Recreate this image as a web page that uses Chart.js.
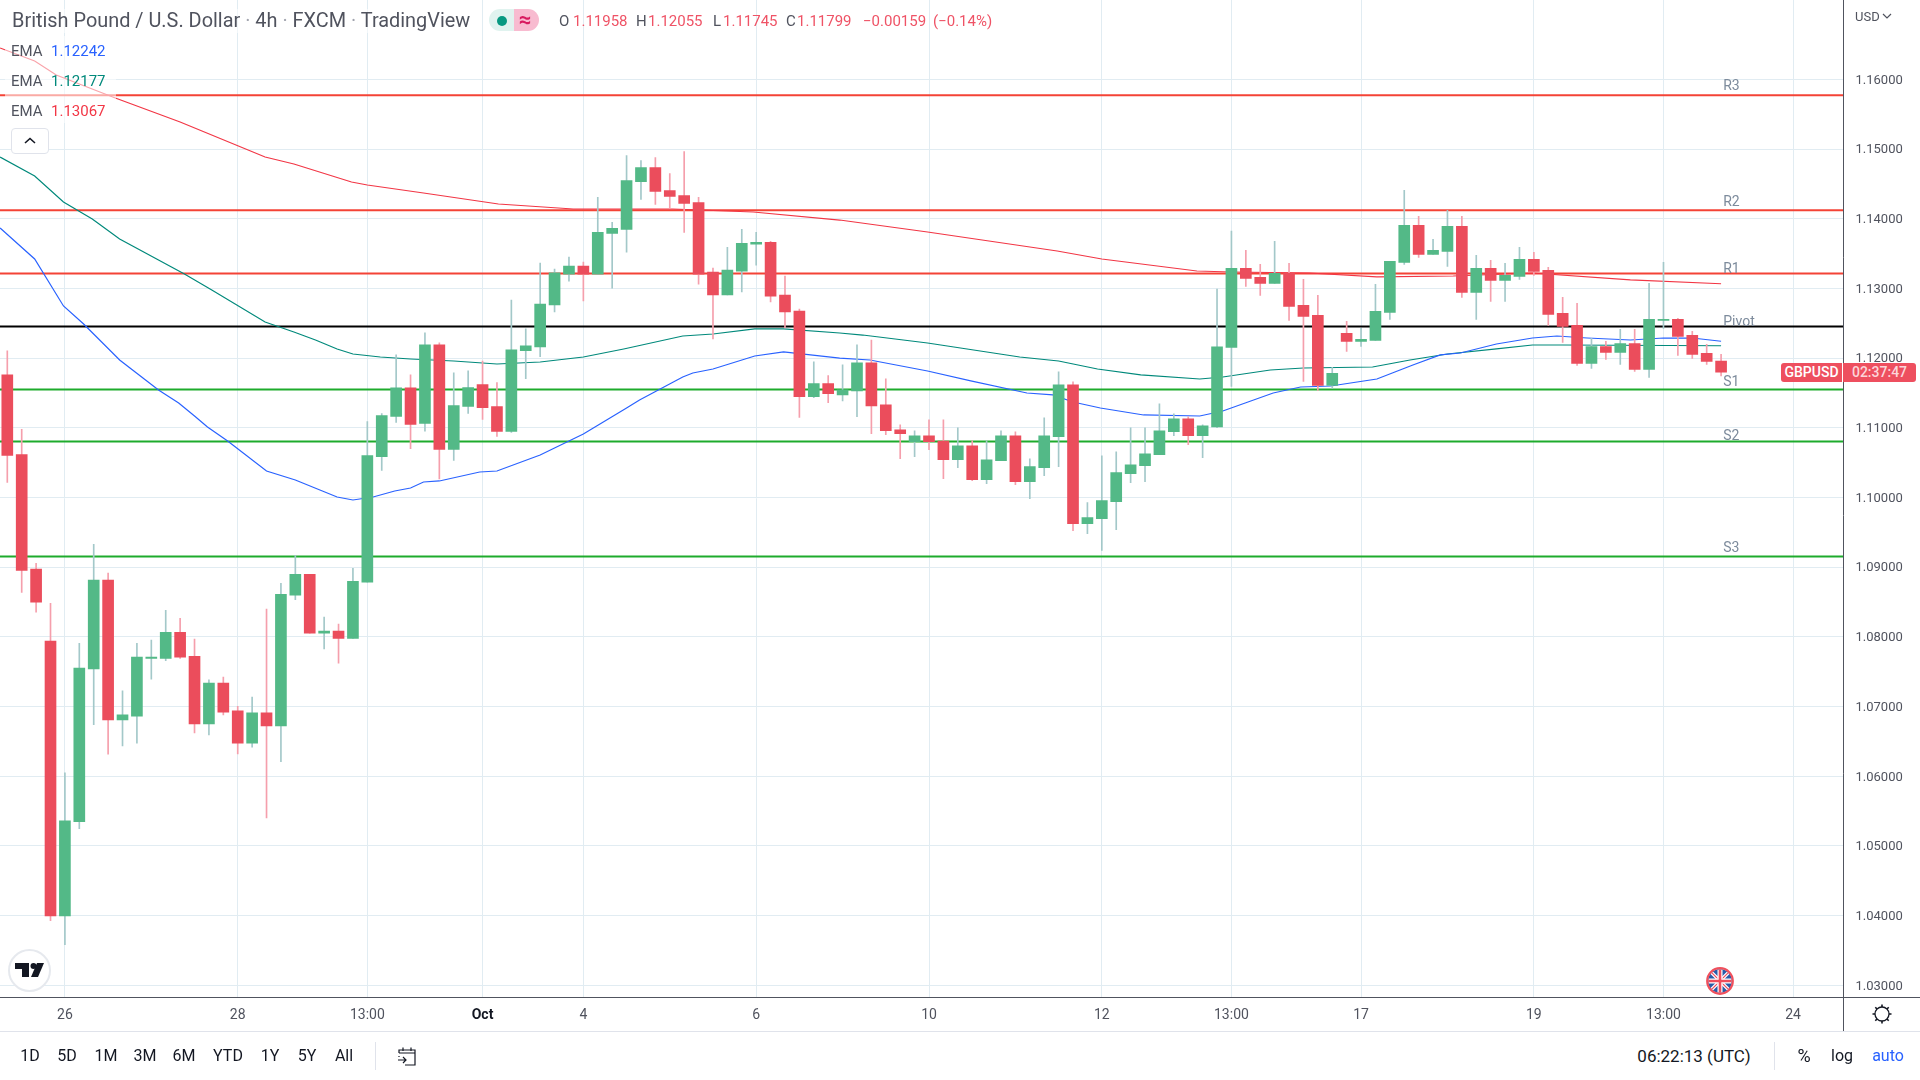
<!DOCTYPE html>
<html>
<head>
<meta charset="utf-8">
<title>GBPUSD</title>
<script src="https://cdn.jsdelivr.net/npm/chart.js@4/dist/chart.umd.min.js"></script>
<style>
  html, body { margin: 0; padding: 0; background: #fff; width: 1920px; height: 1080px; overflow: hidden; }
  body { font-family: Roboto, sans-serif; color: #131722; position: relative; }
  #wrap { position: absolute; left: 0; top: 0; width: 1920px; height: 1031px; }
  .abs { position: absolute; white-space: nowrap; line-height: 1; }
  .red { color: #ef5366; }
  .grey { color: #50535e; }
  .mid { transform: translate(-50%, -50%); }
  .vmid { transform: translateY(-50%); }
  .tb { font-size: 16px; color: #131722; top: 1056px; }
</style>
</head>
<body>
<div id="wrap"><canvas id="chart" width="1920" height="1031"></canvas></div>

<div class="abs" style="left:5px;top:36px;width:111px;height:87px;background:rgba(255,255,255,.55)"></div>
<div class="abs vmid" style="left:12px;top:21px;font-size:19.9px;color:#50535e;background:rgba(255,255,255,.55);padding:2px 0">British Pound / U.S. Dollar <span style="color:#a0a3ad">·</span> 4h <span style="color:#a0a3ad">·</span> FXCM <span style="color:#a0a3ad">·</span> TradingView</div>

<div class="abs" style="left:489px;top:9px;width:25px;height:22px;background:#e0f3ef;border-radius:11px 0 0 11px"></div>
<div class="abs" style="left:514px;top:9px;width:25px;height:22px;background:#f8bbd0;border-radius:0 11px 11px 0"></div>
<div class="abs" style="left:497px;top:16px;width:10px;height:10px;background:#089981;border-radius:50%"></div>
<div class="abs mid" style="left:525px;top:20px;font-size:22px;font-weight:700;color:#d81b60">≈</div>

<div class="abs vmid grey" style="left:559px;top:21px;font-size:15px">O</div>
<div class="abs vmid red" style="left:573px;top:21px;font-size:15px">1.11958</div>
<div class="abs vmid grey" style="left:636px;top:21px;font-size:15px">H</div>
<div class="abs vmid red" style="left:648px;top:21px;font-size:15px">1.12055</div>
<div class="abs vmid grey" style="left:713px;top:21px;font-size:15px">L</div>
<div class="abs vmid red" style="left:723px;top:21px;font-size:15px">1.11745</div>
<div class="abs vmid grey" style="left:786px;top:21px;font-size:15px">C</div>
<div class="abs vmid red" style="left:797px;top:21px;font-size:15px">1.11799</div>
<div class="abs vmid red" style="left:863px;top:21px;font-size:15px">−0.00159</div>
<div class="abs vmid red" style="left:933px;top:21px;font-size:15px">(−0.14%)</div>

<div class="abs vmid grey" style="left:11px;top:51px;font-size:15px">EMA</div>
<div class="abs vmid" style="left:51px;top:51px;font-size:15px;color:#2962ff">1.12242</div>
<div class="abs vmid grey" style="left:11px;top:81px;font-size:15px">EMA</div>
<div class="abs vmid" style="left:51px;top:81px;font-size:15px;color:#00897b">1.12177</div>
<div class="abs vmid grey" style="left:11px;top:111px;font-size:15px">EMA</div>
<div class="abs vmid" style="left:51px;top:111px;font-size:15px;color:#f23645">1.13067</div>

<div class="abs" style="left:11px;top:128px;width:36px;height:24px;background:#fff;border:1px solid #e0e3eb;border-radius:4px">
  <svg width="36" height="24"><path d="M13 14 L18 9.5 L23 14" fill="none" stroke="#131722" stroke-width="1.6"/></svg>
</div>

<div class="abs" style="left:1855px;top:10px;font-size:13px;color:#50535e">USD</div>
<svg class="abs" style="left:1882px;top:12px" width="10" height="8"><path d="M1 2 L5 6 L9 2" fill="none" stroke="#50535e" stroke-width="1.2"/></svg>

<div class="abs" style="left:1781px;top:363px;width:61px;height:19px;background:#ee4f5f;border-radius:3px 0 0 3px;color:#fff;font-size:14px;font-weight:500;text-align:center;line-height:19px">GBPUSD</div>
<div class="abs" style="left:1843px;top:363px;width:73px;height:19px;background:#ee4f5f;border-radius:0 3px 3px 0;color:#fcd5da;font-size:14px;font-weight:500;text-align:center;line-height:19px">02:37:47</div>

<svg class="abs" style="left:8px;top:949px" width="43" height="43">
  <circle cx="21.5" cy="21.5" r="20.5" fill="#fff" stroke="#e6e9ee" stroke-width="2"/>
  <path d="M7 14 H21 V28 H14 V20 H7 Z" fill="#131722"/>
  <circle cx="25.5" cy="17" r="3" fill="#131722"/>
  <path d="M29 14 H36 L30 28 H23 Z" fill="#131722"/>
</svg>

<svg class="abs" style="left:1705px;top:966px" width="30" height="30">
  <defs><clipPath id="flagclip"><circle cx="15" cy="15" r="11.5"/></clipPath></defs>
  <circle cx="15" cy="15" r="12" fill="#2a5ca8"/>
  <g clip-path="url(#flagclip)">
    <path d="M3 3 L27 27 M27 3 L3 27" stroke="#fff" stroke-width="3.5"/>
    <path d="M3 3 L27 27 M27 3 L3 27" stroke="#ef4d5c" stroke-width="1.2"/>
    <path d="M15 2 V28 M2 15 H28" stroke="#fff" stroke-width="5"/>
    <path d="M15 2 V28 M2 15 H28" stroke="#ef4d5c" stroke-width="2.6"/>
  </g>
  <circle cx="15" cy="15" r="12.8" fill="none" stroke="#f0505c" stroke-width="2.2"/>
</svg>

<svg class="abs" style="left:1870px;top:1002px" width="24" height="24">
  <circle cx="12" cy="12" r="7" fill="none" stroke="#131722" stroke-width="1.3"/>
  <path d="M12 2.5 V5 M12 19 V21.5 M2.5 12 H5 M19 12 H21.5 M5.3 5.3 L7 7 M17 17 L18.7 18.7 M5.3 18.7 L7 17 M17 7 L18.7 5.3" stroke="#131722" stroke-width="1.6"/>
</svg>

<div style="position:absolute;left:0;top:1031px;width:1920px;height:1px;background:#e0e3eb"></div>
<div class="abs mid tb" style="left:30px">1D</div>
<div class="abs mid tb" style="left:67px">5D</div>
<div class="abs mid tb" style="left:106px">1M</div>
<div class="abs mid tb" style="left:145px">3M</div>
<div class="abs mid tb" style="left:184px">6M</div>
<div class="abs mid tb" style="left:228px">YTD</div>
<div class="abs mid tb" style="left:270px">1Y</div>
<div class="abs mid tb" style="left:307px">5Y</div>
<div class="abs mid tb" style="left:344px">All</div>
<div style="position:absolute;left:375px;top:1042px;width:1px;height:28px;background:#e0e3eb"></div>
<svg class="abs" style="left:396px;top:1045px" width="22" height="22">
  <path d="M3 8 V5 H19 V20 H9 M3 8 H19 M7 2.5 V6 M15 2.5 V6 M3 11 V12 M2 15 H10 M7 12 L10 15 L7 18" fill="none" stroke="#131722" stroke-width="1.2"/>
</svg>
<div class="abs mid tb" style="left:1694px;font-size:17px">06:22:13 (UTC)</div>
<div style="position:absolute;left:1774px;top:1042px;width:1px;height:28px;background:#e0e3eb"></div>
<div class="abs mid tb" style="left:1804px;font-size:18px">%</div>
<div class="abs mid tb" style="left:1842px">log</div>
<div class="abs mid tb" style="left:1888px;color:#2962ff">auto</div>

<script>
// candles, oldest first (4h bars)
const opens = [
  1.11760,1.10615,1.08972,1.07938,1.03998,1.05348,1.07540,1.08814,1.06810,1.06862,
  1.07692,1.07692,1.08066,1.07721,1.06751,1.07336,1.06938,1.06476,1.06909,1.06722,
  1.08598,1.08896,1.08055,1.08084,1.07979,1.08785,1.10586,1.11164,1.11573,1.11062,
  1.12190,1.10690,1.11305,1.11619,1.11305,1.10948,1.12105,1.12162,1.12762,1.13205,
  1.13319,1.13205,1.13790,1.13848,1.14533,1.14733,1.14405,1.14333,1.14233,1.13233,
  1.12905,1.13248,1.13633,1.13662,1.12905,1.12676,1.11448,1.11633,1.11473,1.11530,
  1.11931,1.11329,1.10971,1.10800,1.10886,1.10809,1.10542,1.10742,1.10255,1.10527,
  1.10886,1.10227,1.10427,1.10871,1.11616,1.09625,1.09697,1.09940,1.10341,1.10456,
  1.10613,1.10943,1.11129,1.10886,1.11014,1.12153,1.13287,1.13158,1.13072,1.13215,
  1.12756,1.12612,1.11607,1.12354,1.12239,1.12253,1.12655,1.13373,1.13904,1.13488,
  1.13531,1.13890,1.12942,1.13287,1.13115,1.13172,1.13416,1.13258,1.12641,1.12469,
  1.11923,1.12167,1.12081,1.12210,1.11837,1.12541,1.12555,1.12325,1.12067,1.11958
];
const closes = [
  1.10603,1.08955,1.08499,1.03998,1.05360,1.07552,1.08814,1.06810,1.06880,1.07710,
  1.07710,1.08066,1.07710,1.06751,1.07336,1.06921,1.06476,1.06909,1.06722,1.08610,
  1.08896,1.08055,1.08084,1.07979,1.08797,1.10603,1.11176,1.11573,1.11047,1.12190,
  1.10690,1.11319,1.11576,1.11290,1.10948,1.12119,1.12176,1.12776,1.13224,1.13319,
  1.13205,1.13805,1.13862,1.14548,1.14733,1.14390,1.14319,1.14219,1.13205,1.12905,
  1.13262,1.13648,1.13662,1.12890,1.12662,1.11448,1.11633,1.11490,1.11544,1.11931,
  1.11315,1.10957,1.10914,1.10886,1.10800,1.10542,1.10742,1.10255,1.10542,1.10886,
  1.10227,1.10442,1.10886,1.11616,1.09625,1.09711,1.09955,1.10356,1.10470,1.10628,
  1.10957,1.11129,1.10886,1.11029,1.12160,1.13287,1.13143,1.13072,1.13215,1.12742,
  1.12598,1.11607,1.11780,1.12239,1.12268,1.12670,1.13388,1.13904,1.13488,1.13545,
  1.13890,1.12942,1.13287,1.13115,1.13187,1.13416,1.13244,1.12627,1.12454,1.11923,
  1.12167,1.12081,1.12210,1.11837,1.12555,1.12555,1.12311,1.12052,1.11952,1.11799
];
const highs = [
  1.12105,1.10977,1.09054,1.08481,1.06050,1.07908,1.09329,1.08914,1.07225,1.07908,
  1.07955,1.08382,1.08265,1.07967,1.07382,1.07423,1.07003,1.07137,1.08400,1.08768,
  1.09171,1.08896,1.08283,1.08183,1.08984,1.11088,1.11205,1.12047,1.11760,1.12362,
  1.12219,1.11790,1.11819,1.11957,1.11648,1.12833,1.12419,1.13362,1.13276,1.13448,
  1.13376,1.14305,1.13948,1.14905,1.14833,1.14876,1.14648,1.14962,1.14305,1.13290,
  1.13590,1.13848,1.13805,1.13676,1.13176,1.12705,1.11948,1.11748,1.11902,1.12189,
  1.12260,1.11702,1.11043,1.10957,1.11115,1.11115,1.11000,1.10814,1.10814,1.10957,
  1.10943,1.10556,1.11143,1.11802,1.11659,1.09926,1.10599,1.10656,1.11000,1.11000,
  1.11344,1.11201,1.11158,1.11043,1.12990,1.13823,1.13545,1.13344,1.13675,1.13359,
  1.13129,1.12899,1.11866,1.12526,1.12426,1.13057,1.13388,1.14407,1.14033,1.13703,
  1.14120,1.14033,1.13474,1.13402,1.13359,1.13588,1.13517,1.13301,1.12871,1.12785,
  1.12282,1.12239,1.12411,1.12411,1.13072,1.13373,1.12569,1.12383,1.12196,1.12055
];
const lows = [
  1.10217,1.08639,1.08353,1.03928,1.03583,1.05249,1.06739,1.06318,1.06436,1.06476,
  1.07394,1.07657,1.07692,1.06623,1.06593,1.06880,1.06319,1.06418,1.05401,1.06208,
  1.08534,1.08055,1.07827,1.07622,1.07979,1.08785,1.10387,1.11076,1.10702,1.10952,
  1.10267,1.10533,1.11205,1.11119,1.10876,1.10933,1.11705,1.12019,1.12662,1.13105,
  1.12819,1.13205,1.13005,1.13519,1.14276,1.14205,1.14148,1.13805,1.13062,1.12276,
  1.12905,1.12948,1.13333,1.12805,1.12433,1.11148,1.11433,1.11362,1.11387,1.11158,
  1.10914,1.10900,1.10556,1.10585,1.10685,1.10270,1.10427,1.10241,1.10198,1.10527,
  1.10184,1.09983,1.10313,1.10442,1.09525,1.09482,1.09239,1.09540,1.10213,1.10227,
  1.10613,1.10886,1.10757,1.10571,1.11000,1.11593,1.13029,1.12899,1.13072,1.12541,
  1.11665,1.11536,1.11564,1.12096,1.12167,1.12253,1.12555,1.13344,1.13445,1.13488,
  1.13316,1.12871,1.12555,1.12813,1.12813,1.13129,1.13187,1.12469,1.12225,1.11895,
  1.11852,1.11981,1.11909,1.11808,1.11722,1.12426,1.12038,1.11995,1.11909,1.11745
];

const emaBlueAt = [-0.5,1.9,3.9,5.3,7.8,10.5,11.9,13,13.9,15.3,18,20,22.9,24,25.4,26.9,28,28.9,30,32.8,34,37,40,43,43.9,46.9,47.6,49,51.9,53.9,57.8,59.9,63.9,66.9,70.8,72.6,74,75.9,78.9,82.8,84.4,87.9,89.8,91.9,95.1,97.6,99.5,100.9,103.4,105.9,107.6,109.7,112.7,115,117,119];
const emaBlue = [1.13867,1.13422,1.12748,1.12489,1.11973,1.11542,1.11356,1.11169,1.11012,1.10811,1.1038,1.10251,1.10007,1.09964,1.10007,1.10093,1.10136,1.10222,1.10237,1.10366,1.1038,1.1061,1.10911,1.11284,1.11399,1.11729,1.11786,1.11844,1.1203,1.12088,1.12001,1.11973,1.11815,1.11672,1.11499,1.11471,1.1137,1.11284,1.11184,1.11169,1.11241,1.11499,1.11585,1.116,1.117,1.11901,1.12045,1.12073,1.12202,1.12288,1.12317,1.12288,1.1226,1.12288,1.12288,1.12242];
const emaGreenAt = [-0.5,1.9,3.9,5.9,7.8,12.3,14.2,17.9,19.9,21.4,22.9,24,25.9,28,31,34,37,40,42.8,46.9,49,51.9,53.9,57.8,59.4,63.9,70.3,73,75.7,78.7,82.8,84.4,87.7,90,94.8,97.4,100,103.4,105.9,108,119];
const emaGreen = [1.14885,1.14613,1.1424,1.13996,1.13709,1.13207,1.12977,1.12518,1.12374,1.1226,1.12131,1.12059,1.12016,1.11987,1.11958,1.11915,1.11944,1.12016,1.12131,1.12317,1.12346,1.12418,1.12418,1.1236,1.12331,1.12217,1.12016,1.11958,1.11844,1.11758,1.117,1.11729,1.11829,1.11858,1.11872,1.11973,1.12059,1.12131,1.12188,1.12188,1.12177];
const emaRedAt = [-0.5,1.9,3.4,7.5,12,17.9,19.9,23.9,25,28.9,34.1,39.3,46.2,51.8,57.8,63.9,72.9,76,82.6,85,90.4,95.1,100.4,105.9,112.7,119];
const emaRed = [1.16449,1.16263,1.16062,1.15732,1.15387,1.14885,1.14785,1.14527,1.14484,1.14369,1.14211,1.14139,1.14139,1.14096,1.13981,1.13809,1.13537,1.13422,1.1325,1.13235,1.13221,1.13164,1.13178,1.13221,1.13121,1.13067];

// pivot levels
const levelNames = ['R3','R2','R1','Pivot','S1','S2','S3'];
const levelValues = [1.1577,1.1412,1.13215,1.12455,1.1155,1.10804,1.09153];
const levelColors = ['#f44336','#f44336','#f44336','#000000','#1eab2c','#1eab2c','#1eab2c'];

const priceTicks = [1.03,1.04,1.05,1.06,1.07,1.08,1.09,1.1,1.11,1.12,1.13,1.14,1.15,1.16];
const timeTickAt = [4,16,25,33,40,52,64,76,85,94,106,115,124];
const timeTickLabels = ['26','28','13:00','Oct','4','6','10','12','13:00','17','19','13:00','24'];

const UP = '#53b987', DOWN = '#eb4d5c', UP_WICK = '#a3c8c9', DOWN_WICK = '#f59fac';
const GRID = '#e1ecf2', AXIS = '#50535e';
const X_MIN = -0.507, X_MAX = 127.5;
const LABEL_LIFT = [5, 4, 0, 0, 3, 1.5, 5]; // px above the line, not uniform in the original

const isUp = opens.map((o, i) => closes[i] >= o);

const levelSets = levelValues.map((v, i) => ({
  type: 'line',
  label: levelNames[i],
  data: [{ x: X_MIN, y: v }, { x: X_MAX, y: v }],
  borderColor: levelColors[i],
  borderWidth: 2,
  pointRadius: 0,
  order: 5,
}));

function emaSet(label, at, values, color) {
  return {
    type: 'line',
    label,
    data: values.map((v, i) => ({ x: at[i], y: v })),
    borderColor: color,
    borderWidth: 1.2,
    pointRadius: 0,
    tension: 0,
    order: 4,
  };
}

// level names sit just above each line, a little past the last bar
const levelLabels = {
  id: 'levelLabels',
  afterDatasetsDraw(chart) {
    const { ctx, scales } = chart;
    ctx.save();
    ctx.font = '14px Roboto';
    ctx.fillStyle = '#7d8b9c';
    ctx.textBaseline = 'alphabetic';
    levelNames.forEach((name, i) => {
      ctx.fillText(name, scales.x.getPixelForValue(119.15), scales.y.getPixelForValue(levelValues[i]) - LABEL_LIFT[i]);
    });
    ctx.restore();
  },
};

// axis lines run the full width/height of the widget
const axisLines = {
  id: 'axisLines',
  afterDraw(chart) {
    const { ctx, chartArea, width, height } = chart;
    ctx.save();
    ctx.strokeStyle = AXIS;
    ctx.lineWidth = 1;
    ctx.beginPath();
    ctx.moveTo(0, chartArea.bottom + 0.5);
    ctx.lineTo(width, chartArea.bottom + 0.5);
    ctx.moveTo(chartArea.right, 0);
    ctx.lineTo(chartArea.right, height);
    ctx.stroke();
    ctx.restore();
  },
};

new Chart(document.getElementById('chart'), {
  type: 'bar',
  data: {
    datasets: [
      {
        label: 'Body',
        data: opens.map((o, i) => ({ x: i, y: [o, closes[i]] })),
        backgroundColor: isUp.map(u => (u ? UP : DOWN)),
        barThickness: 11,
        grouped: false,
        order: 1,
      },
      {
        label: 'Wick',
        data: lows.map((l, i) => ({ x: i, y: [l, highs[i]] })),
        backgroundColor: isUp.map(u => (u ? UP_WICK : DOWN_WICK)),
        barThickness: 1,
        grouped: false,
        order: 2,
      },
      emaSet('EMA blue', emaBlueAt, emaBlue, '#2962ff'),
      emaSet('EMA green', emaGreenAt, emaGreen, '#00897b'),
      emaSet('EMA red', emaRedAt, emaRed, '#f23645'),
      ...levelSets,
    ],
  },
  options: {
    responsive: false,
    animation: false,
    devicePixelRatio: 1,
    layout: { padding: 0 },
    plugins: { legend: { display: false }, tooltip: { enabled: false } },
    scales: {
      x: {
        type: 'linear',
        offset: false,
        min: X_MIN,
        max: X_MAX,
        afterBuildTicks: (scale) => { scale.ticks = timeTickAt.map(v => ({ value: v })); },
        afterFit: (scale) => { scale.height = 34; scale.paddingLeft = 0; scale.paddingRight = 0; },
        grid: { color: GRID, drawTicks: false, offset: false },
        border: { display: false },
        ticks: {
          color: (c) => (c.tick && c.tick.label === 'Oct' ? '#131722' : '#50535e'),
          font: (c) => ({ family: 'Roboto', size: 14, weight: c.tick && c.tick.label === 'Oct' ? '700' : '400' }),
          padding: 10,
          maxRotation: 0,
          autoSkip: false,
          callback: (v) => timeTickLabels[timeTickAt.indexOf(v)],
        },
      },
      y: {
        position: 'right',
        min: 1.02833,
        max: 1.17138,
        afterBuildTicks: (scale) => { scale.ticks = priceTicks.map(v => ({ value: v })); },
        afterFit: (scale) => { scale.width = 76.5; scale.paddingTop = 0; scale.paddingBottom = 0; },
        grid: { color: GRID, drawTicks: false },
        border: { display: false },
        ticks: {
          color: '#50535e',
          font: { family: 'Roboto', size: 13 },
          padding: 12,
          labelOffset: 1,
          callback: (v) => v.toFixed(5),
        },
      },
    },
  },
  plugins: [levelLabels, axisLines],
});
</script>
</body>
</html>
